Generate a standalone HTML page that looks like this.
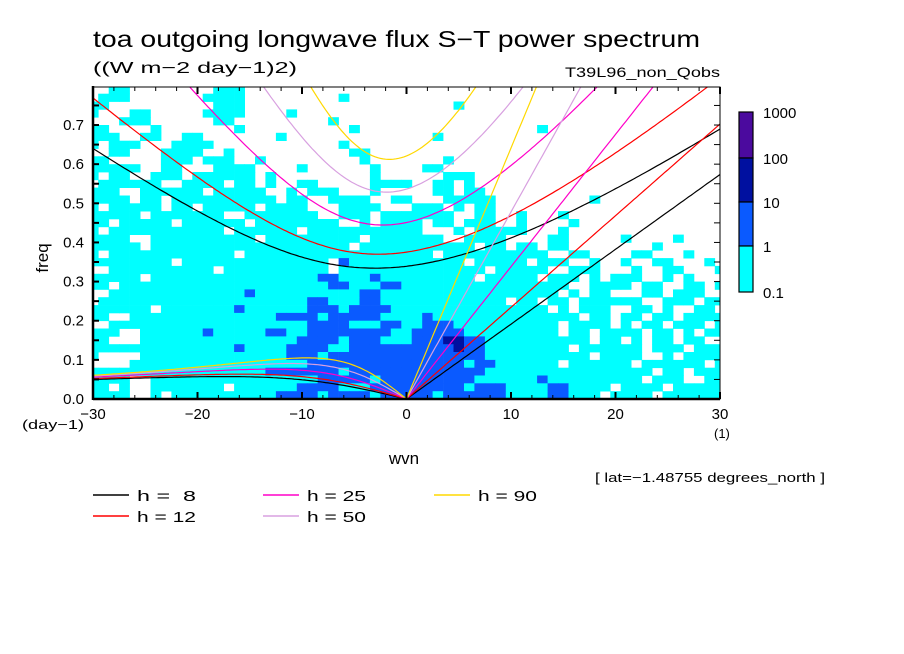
<!DOCTYPE html>
<html><head><meta charset="utf-8"><style>
html,body{margin:0;padding:0;background:#fff;}
svg{display:block;font-family:"Liberation Sans",sans-serif;}
</style></head><body>
<svg id="chart" width="904" height="654" viewBox="0 0 904 654">
<defs><clipPath id="clip"><rect x="93" y="87" width="627" height="312"/></clipPath></defs>
<text x="93" y="47" font-size="23" textLength="607" lengthAdjust="spacingAndGlyphs">toa outgoing longwave flux S−T power spectrum</text>
<text x="93" y="73" font-size="16" textLength="204" lengthAdjust="spacingAndGlyphs">((W m−2 day−1)2)</text>
<text x="565" y="77" font-size="14" textLength="155" lengthAdjust="spacingAndGlyphs">T39L96_non_Qobs</text>
<g id="cells" clip-path="url(#clip)"></g>
<g id="curves" clip-path="url(#clip)"></g>
<g id="axes"></g>
<text transform="translate(48,258) rotate(-90)" font-size="17" text-anchor="middle">freq</text>
<text x="22" y="429" font-size="13" textLength="62" lengthAdjust="spacingAndGlyphs">(day−1)</text>
<text x="714" y="438" font-size="13">(1)</text>
<text x="404" y="464" font-size="17" text-anchor="middle">wvn</text>
<text x="595" y="482" font-size="13" textLength="230" lengthAdjust="spacingAndGlyphs">[ lat=−1.48755 degrees_north ]</text>
<g id="legend"></g>
<g id="colorbar"></g>
</svg>
<script>
const hValues=[8,12,25,50,90];
const hColors=['#000000','#ff0000','#ff00c8','#d8a0e0','#ffd800'];
const levelLabels=['1000','100','10','1','0.1'];
const levelColors=['#4b0a9e','#0010a0','#0a5aff','#00ffff'];
const wvnTicks=[-30,-20,-10,0,10,20,30];
const freqTicks=[0.0,0.1,0.2,0.3,0.4,0.5,0.6,0.7];
// heatmap rows, top (0.78-0.80) to bottom (0.00-0.02); columns wvn -30..30
// '.' <0.1, 'c' 0.1-1, 'b' 1-10, 'd' 10-100
const gridRows=[
"..cc......"+"..ccc....."+".........."+"."+".........."+".........."+"..........",
".ccc......"+".cccc....."+"....c....."+"."+".........."+".........."+"..........",
"cc........"+"..ccc....."+".........."+"."+"....c....."+".........."+"..........",
"c...cc...."+".cccc....c"+".........."+"."+".........."+".........."+"..........",
"...ccc...."+"..cc......"+"...c......"+"."+".........."+".........."+"..........",
"cc....c..."+"....c....."+".....c...."+"."+".........."+"..c......."+"..........",
"ccc..cc..c"+"c.......c."+".........."+"."+"..c......."+".........."+"..........",
"c.ccc...cc"+"cc........"+"....c....."+"."+".........."+".........."+"..........",
"..cc...ccc"+"c..c......"+".....cc..."+"."+".........."+".........."+"..........",
"cc.....ccc"+".ccc..c..."+"......c..."+"."+"...c......"+".........."+"..........",
"ccccc..cc."+"..cccc...."+"c......c.."+"."+".cc......."+".........."+"..........",
"c.cc..ccc."+"cccccc.c.."+".......c.."+"."+"...ccc...."+".........."+"..........",
".cccccc..c"+"ccc.cc.c.."+"cc.....ccc"+"c"+"..cc.c...."+".........."+"..........",
"ccc..ccccc"+"c.ccccc..c"+".ccc...c.."+"."+"..cc.cc..."+".........."+"..........",
"cccc.cc.cc"+"cccccccc.c"+"c..cccc..c"+"c"+"...ccccc.."+".......c.."+"..........",
"c.ccccc.cc"+".ccccc.ccc"+"c...cccc.."+"."+"ccc.c.cc.."+".........."+"..........",
"ccccc.cccc"+"ccc..ccccc"+"cc..ccc.cc"+"c"+"cccc..cc.."+"c...c....."+"..........",
"cc.ccccc.c"+"ccccc.cccc"+"cccc..c.cc"+"c"+"c.cc.ccc.."+"c....c...."+"..........",
"c.cccccccc"+"ccc.cccccc"+".ccccccccc"+"c"+"c...c.cccc"+"c...c....."+"..........",
"cccc..cccc"+"cccccc.ccc"+"cccccc.ccc"+"c"+"ccc..cccc."+"...cc....."+"c....c....",
"ccccc.cccc"+"cccccccccc"+"ccccc.cccc"+"c"+"cccccc.cc."+"cc.cc....."+"...c......",
"c.cccccccc"+"cccc.ccccc"+"cccccccccc"+"c"+"cc.ccccccc"+"ccc..cc..."+".cc...c...",
"cccccccc.c"+"cccccccccc"+"ccc.bccccc"+"c"+"ccccc.cccc"+"c.ccc..c.."+"c..cc...c.",
"..cccccccc"+"cc.ccccccc"+"ccc.cccccc"+"c"+"ccccccc.cc"+"ccc..ccc.."+".c..cc...c",
"ccccc.cccc"+"cccccccccc"+"ccbbcccbcc"+"c"+"cccccc.ccc"+"cc.ccc.c.c"+"cc..c.c...",
"cc.ccccccc"+"cccccccccc"+"cccbbcccbb"+"c"+"cccccccccc"+"ccccc..ccc"+"c.cc..cc.c",
"..cccccccc"+"cccccbcccc"+"ccccccbbcc"+"c"+"cccccccccc"+"cccc.c.cc."+"..cc.ccc..",
".ccccccccc"+"cccccccccc"+"cbbcccbbcc"+"c"+"ccccccccc."+"cc.cc.cccc"+"cc..ccc.cc",
"cccccc.ccc"+"ccccbccccc"+"cbbbcbbbbc"+"c"+"cccccccccc"+"ccc.c.ccc."+".cc.c..cc.",
"cc..cccccc"+"ccccccccbb"+"bbcbbbbbcc"+"c"+"cbcccccccc"+"cccccc.cc."+"cc.cc.cccc",
"..cccccccc"+"cccccccccc"+"cbbbbcccbb"+"c"+"cbbbcccccc"+"cccc.cccc."+"c.cc.ccc.c",
"ccc..ccccc"+"cbcccccbbc"+"cbbbbbbbbc"+"c"+"bbbbbccccc"+"cccc.cc.cc"+"cc.cc.c.cc",
"cc...ccccc"+"cccccccccc"+"bbbbcbbbcc"+"c"+"bbbddbbccc"+"ccccccc.cc"+".c.cc.cc..",
"cccccccccc"+"ccccbccccb"+"bbbccbbbbb"+"b"+"bbbbdbbccc"+"ccccc.cccc"+"cc.ccc.ccc",
"c....ccccc"+"cccccccccb"+"bbcbbbbbbb"+"b"+"bbbbbbbccc"+"ccccccc.cc"+"cc..c.cccc",
"....cccccc"+"cccccccccc"+"cbbbbbbbbb"+"b"+"bbbbbcbbcc"+"cccc.ccccc"+"c.cccccc.c",
"cccccccccc"+"cccccccbbb"+"bbbbcbbbbb"+"b"+"bbbbbbbccc"+"cccccccccc"+"ccc.cc.ccc",
"cccc..cccc"+"cccccccccc"+"ccbbbbbcbb"+"b"+"bbbbbbcccc"+"ccbccccccc"+"cc.ccc..cc",
"cc.c..cccc"+"ccc.cccccc"+"bbbbcccbbb"+"b"+"bbbbbcbbbc"+"cccbbcccc."+"cccc.ccccc",
"cccc..c.cc"+"ccccccccbb"+"bbcbbbbcbb"+"b"+"bbcbbbbbbc"+"cccbbccc.c"+"ccc.cccccc"
];
const NS='http://www.w3.org/2000/svg';
const X0=93,X1=720,Y0=399,FPX=391.4;
function xs(k){return X0+(k+30)*(X1-X0)/60;}
function ys(f){return Y0-f*FPX;}
function mk(tag,attrs,parent){const e=document.createElementNS(NS,tag);for(const a in attrs)e.setAttribute(a,attrs[a]);parent.appendChild(e);return e;}
const colorOf={c:levelColors[3],b:levelColors[2],d:levelColors[1],p:levelColors[0]};
const cells=document.getElementById('cells');
const nRows=gridRows.length;
gridRows.forEach((row,ri)=>{
  const bin=nRows-1-ri;
  for(let ci=0;ci<row.length;ci++){
    const ch=row[ci]; if(ch==='.')continue;
    const k=ci-30;
    const x1=xs(k-0.5),x2=xs(k+0.5),ya=ys((bin+1)*0.02),yb=ys(bin*0.02);
    const r=mk('rect',{x:x1.toFixed(1),y:ya.toFixed(1),width:(x2-x1+0.4).toFixed(1),height:(yb-ya+0.4).toFixed(1),fill:colorOf[ch]},cells);
    
    
  }
});
const a=6.371e6,beta=2.289e-11,g=9.81;
function roots(kh){const p=-(kh*kh+3),q=-kh;const m=2*Math.sqrt(-p/3);const th=Math.acos(Math.max(-1,Math.min(1,(3*q/(2*p))*Math.sqrt(-3/p))))/3;
 return [0,1,2].map(j=>m*Math.cos(th-2*Math.PI*j/3));}
const curves=document.getElementById('curves');
hValues.forEach((h,i)=>{
  const c=Math.sqrt(g*h),L=Math.sqrt(c/beta),W=Math.sqrt(beta*c)*86400/(2*Math.PI);
  let kel=[],ig=[],er=[];
  for(let k=-30;k<=30.001;k+=0.25){
    const kh=k*L/a; const r=roots(kh).sort((u,v)=>u-v);
    ig.push([xs(k),ys(r[2]*W)]);
    if(k<=0){const pos=r.filter(v=>v>=-1e-9);er.push([xs(k),ys(Math.min(...pos)*W)]);}
    if(k>=0)kel.push([xs(k),ys(kh*W)]);
  }
  [['ig',ig],['er',er],['kelvin',kel]].forEach(([nm,pts])=>{
    const pl=mk('polyline',{points:pts.map(p=>p[0].toFixed(1)+','+p[1].toFixed(1)).join(' '),fill:'none',stroke:hColors[i],'stroke-width':1.2},curves);
    
    
  });
});
const ax=document.getElementById('axes');
mk('rect',{x:X0,y:87,width:X1-X0,height:Y0-87,fill:'none',stroke:'#000','stroke-width':1},ax);
mk('line',{x1:X0,y1:86,x2:X0,y2:400,stroke:'#000','stroke-width':2.5},ax);
mk('line',{x1:X0,y1:Y0,x2:X1,y2:Y0,stroke:'#000','stroke-width':2.5},ax);
for(let k=-30;k<=30;k+=2){const maj=(k%10===0);const x=xs(k);
  mk('line',{x1:x,y1:Y0,x2:x,y2:Y0-(maj?7:4),stroke:'#000','stroke-width':maj?2:1},ax);
  mk('line',{x1:x,y1:87,x2:x,y2:87+(maj?7:4),stroke:'#000','stroke-width':maj?2:1},ax);}
for(let j=0;j<=15;j++){const f=j*0.05;const y=ys(f);if(y<87)continue;
  mk('line',{x1:X0,y1:y,x2:X0+6,y2:y,stroke:'#000','stroke-width':2},ax);
  mk('line',{x1:X1,y1:y,x2:X1-6,y2:y,stroke:'#000','stroke-width':1},ax);}
wvnTicks.forEach(k=>{const t=mk('text',{x:xs(k),y:419,'font-size':15,'text-anchor':'middle'},ax);t.textContent=(k<0?'−'+(-k):k);
  
  });
freqTicks.forEach(f=>{const t=mk('text',{x:84,y:ys(f)+5,'font-size':15,'text-anchor':'end'},ax);t.textContent=f.toFixed(1);
  
  });
const lg=document.getElementById('legend');
const legPos=[[93,495],[93,516],[263,495],[263,516],[434,495]];
hValues.forEach((h,i)=>{const [x,y]=legPos[i];
  const ln=mk('line',{x1:x,y1:y,x2:x+36,y2:y,stroke:hColors[i],'stroke-width':1.5},lg);
  
  
  const t=mk('text',{x:x+44,y:y+6,'font-size':15,textLength:59,lengthAdjust:'spacingAndGlyphs'},lg);t.textContent='h = '+(h<10?' ':'')+h;
  t.style.whiteSpace='pre';
  
  });
const cb=document.getElementById('colorbar');
const cbY=[112,158,202,246,292];
for(let i=0;i<4;i++){const r=mk('rect',{x:739,y:cbY[i],width:14,height:cbY[i+1]-cbY[i],fill:levelColors[i],stroke:'#000','stroke-width':1.2},cb);
  
  }
levelLabels.forEach((l,i)=>{const t=mk('text',{x:763,y:cbY[i]+6,'font-size':15},cb);t.textContent=l;
  
  });
</script>
</body></html>
